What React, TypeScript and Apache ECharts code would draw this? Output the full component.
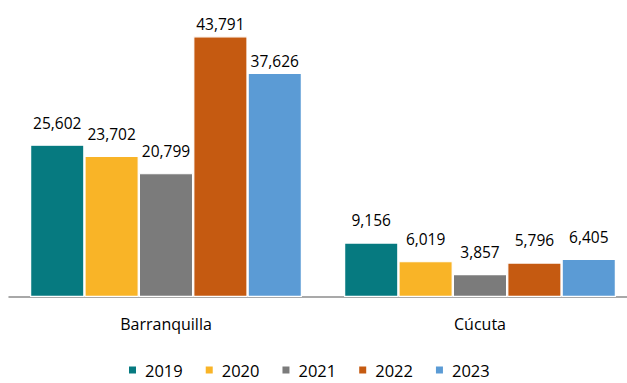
import React, { useEffect, useRef } from "react";
import * as echarts from "echarts";

const categories = ["Barranquilla", "Cúcuta"];
const years = ["2019", "2020", "2021", "2022", "2023"];
const v2019 = [25602, 9156];
const v2020 = [23702, 6019];
const v2021 = [20799, 3857];
const v2022 = [43791, 5796];
const v2023 = [37626, 6405];
const colors = ["#067A80", "#F9B427", "#7B7B7B", "#C55A11", "#5B9BD5"];

const FONT = "Open Sans";

export default function App() {
  const ref = useRef<HTMLDivElement>(null);
  useEffect(() => {
    if (!ref.current) return;
    const chart = echarts.init(ref.current, undefined, { renderer: "svg" });
    const values = [v2019, v2020, v2021, v2022, v2023];
    chart.setOption({
      animation: false,
      textStyle: { fontFamily: FONT },
      legend: {
        data: years,
        top: 361,
        left: 127,
        padding: 0,
        itemWidth: 9,
        itemHeight: 9,
        itemGap: 21,
        icon: "rect",
        textStyle: {
          fontFamily: FONT,
          fontSize: 16.5,
          lineHeight: 18,
          color: "#000",
          padding: [0, 0, 0, 3],
        },
      },
      grid: { left: 9, top: 29, right: 13, bottom: 86, containLabel: false },
      xAxis: {
        type: "category",
        data: categories,
        axisLine: { lineStyle: { color: "#8C8C8C", width: 1.5 } },
        axisTick: { show: false },
        axisLabel: { fontFamily: FONT, fontSize: 16, color: "#000", margin: 19 },
      },
      yAxis: {
        type: "value",
        min: 0,
        max: 45000,
        show: false,
        splitLine: { show: false },
      },
      series: years.map((y, i) => ({
        name: y,
        type: "bar",
        data: values[i].map((v) => ({
          value: v,
          label: { distance: v > 35000 ? 4 : 14 },
        })),
        barGap: "0%",
        barCategoryGap: "13.4%",
        itemStyle: { color: colors[i], borderColor: "#fff", borderWidth: 1.2 },
        label: {
          show: true,
          position: "top",
          fontFamily: FONT,
          fontSize: 15.5,
          color: "#000",
          formatter: (p: any) => Number(p.value).toLocaleString("en-US"),
        },
      })),
    });
    return () => chart.dispose();
  }, []);
  return (
    <div
      ref={ref}
      style={{ position: "fixed", left: 0, top: 0, width: 650, height: 383, background: "#fff" }}
    />
  );
}
